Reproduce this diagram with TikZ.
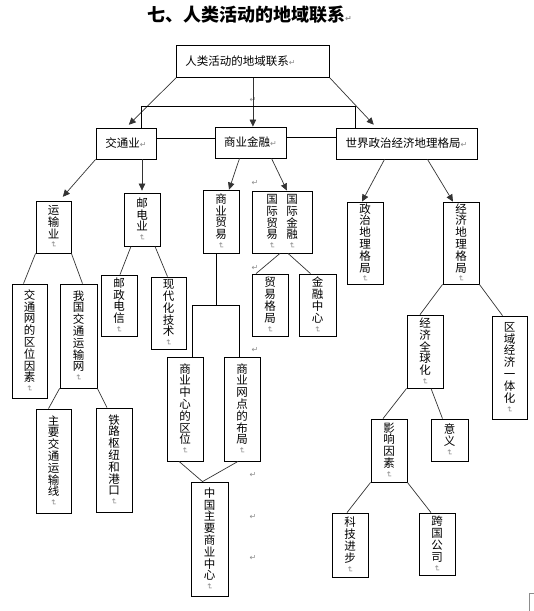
\documentclass[tikz,border=0pt]{standalone}
\usepackage{fontspec}
\usepackage{graphicx}
\setmainfont{Noto Sans CJK SC}
\newfontfamily\markfont{DejaVu Sans}
\usetikzlibrary{arrows.meta,calc}

\colorlet{markgray}{black!45}
% Word paragraph marks, flat and turned for vertical text
\newcommand{\hmark}{{\markfont\color{markgray}\fontsize{8}{8}\selectfont ↵}}
\newcommand{\vmark}{\rotatebox[origin=c]{-90}{\hmark}}
% one character per row, mark below
\newcommand{\vtxt}[1]{#1\\[-2pt]\vmark}

\begin{document}
\begin{tikzpicture}[x=1pt,y=-1pt,
    % --- Styles ---
    box node/.style={draw=black, line width=0.8pt, inner sep=0pt, align=center,
        font=\fontsize{11.5}{11.8}\selectfont},
    text node/.style={inner sep=0pt, align=center, font=\fontsize{11.5}{11.8}\selectfont},
    title node/.style={font=\bfseries\fontsize{18}{18}\selectfont, inner sep=0pt, anchor=west},
    mark node/.style={inner sep=0pt},
    link line/.style={draw=black!80, line width=0.7pt},
    arrow line/.style={link line, -{Triangle[length=7pt,width=6.5pt]}}
]

\useasboundingbox (0,0) rectangle (534,611);

% --- title ---
\node[title node] (title) at (147,15) {七、人类活动的地域联系\hmark};

% --- root box, text set to the left ---
\node[box node, anchor=north west, minimum height=32pt, text width=135pt,
      inner xsep=9pt, align=left] (root) at (176,45) {人类活动的地域联系\hmark};

%================BOXES: name/left/top/right/bottom/text================
\foreach \name/\xa/\ya/\xb/\yb/\txt in {
    jiaotong/96/128/156/159/{交通业\hmark},
    shangjin/215/127/286/158/{商业金融\hmark},
    shijie/336/128/477/159/{世界政治经济地理格局\hmark},
    yunshu/36/201/71/253/{\vtxt{运\\输\\业}},
    youdian/124/193/160/246/{\vtxt{邮\\电\\业}},
    shangmao/203/190/239/253/{\vtxt{商\\业\\贸\\易}},
    guoji/252/191/312/253/{},
    zhengzhi/347/202/383/284/{\vtxt{政\\治\\地\\理\\格\\局}},
    jingji/443/202/479/284/{\vtxt{经\\济\\地\\理\\格\\局}},
    jtw/12/284/47/398/{\vtxt{交\\通\\网\\的\\区\\位\\因\\素}},
    wgjt/60/284/97/388/{\vtxt{我\\国\\交\\通\\运\\输\\网}},
    yzdx/101/275/137/336/{\vtxt{邮\\政\\电\\信}},
    xdh/151/277/186/349/{\vtxt{现\\代\\化\\技\\术}},
    mygj/252/274/288/336/{\vtxt{贸\\易\\格\\局}},
    jrzx/299/274/336/336/{\vtxt{金\\融\\中\\心}},
    qqh/407/315/443/388/{\vtxt{经\\济\\全\\球\\化}},
    qyyth/492/316/527/419/{\vtxt{区\\域\\经\\济\\一\\体\\化}},
    zyjt/36/409/71/513/{\vtxt{主\\要\\交\\通\\运\\输\\线}},
    tlsn/96/408/132/512/{\vtxt{铁\\路\\枢\\纽\\和\\港\\口}},
    syzx/167/357/203/461/{\vtxt{商\\业\\中\\心\\的\\区\\位}},
    wdbj/224/357/260/461/{\vtxt{商\\业\\网\\点\\的\\布\\局}},
    zgzx/191/482/228/596/{\vtxt{中\\国\\主\\要\\商\\业\\中\\心}},
    yxys/371/419/407/482/{\vtxt{影\\响\\因\\素}},
    yy/431/419/468/461/{\vtxt{意\\义}},
    kjjb/332/513/368/577/{\vtxt{科\\技\\进\\步}},
    kggs/419/513/455/575/{\vtxt{跨\\国\\公\\司}}} {
    \pgfmathsetmacro{\cx}{(\xa+\xb)/2}
    \pgfmathsetmacro{\cy}{(\ya+\yb)/2}
    \pgfmathsetmacro{\bw}{\xb-\xa}
    \pgfmathsetmacro{\bh}{\yb-\ya}
    \node[box node, minimum width=\bw pt, minimum height=\bh pt] (\name) at (\cx,\cy) {\txt};
}

% two columns inside the guoji box
\node[text node] (guojiL) at ([xshift=-10pt]guoji.center) {\vtxt{国\\际\\贸\\易}};
\node[text node] (guojiR) at ([xshift=10pt]guoji.center) {\vtxt{国\\际\\金\\融}};

% --- loose paragraph marks ---
\foreach \mx/\my [count=\k] in {253/100, 255/183, 255/268, 255/350, 253/475, 253/517, 253/558}
    \node[mark node] (pm\k) at (\mx,\my) {\hmark};

% page corner
\draw[black!45, line width=0.6pt] (529,611) -- (529,593) -- (534,593);

% --- level 1 ---
\draw[arrow line, shorten >=4pt] (root.south west) -- (jiaotong.north);
\draw[arrow line] (root.south) -- (root.south |- shangjin.north);
\draw[arrow line, shorten >=4pt] (root.south east) -- ([xshift=-30pt]shijie.north);
\draw[link line, draw=black] ([xshift=15pt]jiaotong.north) -- ++(0,-21) -| ([xshift=-51pt]shijie.north);
\draw[link line, draw=black] ([yshift=5pt]jiaotong.east) -- ([yshift=5pt]jiaotong.east -| shangjin.west);
\draw[link line, draw=black] ([yshift=5pt]shangjin.east) -- ([yshift=5pt]shangjin.east -| shijie.west);

% --- level 2 ---
\draw[arrow line, shorten >=5pt] (jiaotong.south west) -- ([xshift=6pt]yunshu.north);
\draw[arrow line, shorten >=2pt] (jiaotong.south -| youdian.north) -- (youdian.north);
\draw[arrow line] ([xshift=-11pt]shangjin.south) -- ([xshift=8pt]shangmao.north);
\draw[arrow line] ([xshift=21pt]shangjin.south) -- ([xshift=5pt]guoji.north);
\draw[arrow line] ([xshift=-22pt]shijie.south) -- ([xshift=-3pt]zhengzhi.north);
\draw[arrow line] ([xshift=21pt]shijie.south) -- ([xshift=-8pt]jingji.north);

% --- level 3 ---
\draw[link line] (yunshu.south west) -- ([xshift=-6pt]jtw.north);
\draw[link line] (yunshu.south east) -- ([xshift=4pt]wgjt.north);
\draw[link line] ([xshift=-11pt]youdian.south) -- ([xshift=1pt]yzdx.north);
\draw[link line] ([xshift=13pt]youdian.south) -- ([xshift=-1pt]xdh.north);
\draw[link line] ([xshift=-2pt]guoji.south) -- ([xshift=-14pt]mygj.north);
\draw[link line] ([xshift=6pt]guoji.south) -- ([xshift=-7pt]jrzx.north);
\draw[link line] (jingji.south west) -- ([xshift=-5pt]qqh.north);
\draw[link line] (jingji.south east) -- ([xshift=-7pt]qyyth.north);
\draw[link line, draw=black] ([xshift=-5pt]shangmao.south) -- ++(0,52) coordinate (fork);
\draw[link line, draw=black] ([xshift=7pt]syzx.north) |- (fork) -| ([xshift=-3pt]wdbj.north);

% --- level 4 and below ---
\draw[link line] ([xshift=-6pt]syzx.south) -- ([xshift=-7pt]zgzx.north) -- ([xshift=-4pt]wdbj.south);
\draw[link line] (wgjt.south west) -- ([xshift=-5pt]zyjt.north);
\draw[link line] (wgjt.south east) -- ([xshift=-7pt]tlsn.north);
\draw[link line] (qqh.south west) -- ([xshift=-6pt]yxys.north);
\draw[link line] ([xshift=6pt]qqh.south) -- ([xshift=-7pt]yy.north);
\draw[link line] (yxys.south west) -- ([xshift=-3pt]kjjb.north);
\draw[link line] (yxys.south east) -- ([xshift=-6pt]kggs.north);

\end{tikzpicture}
\end{document}
